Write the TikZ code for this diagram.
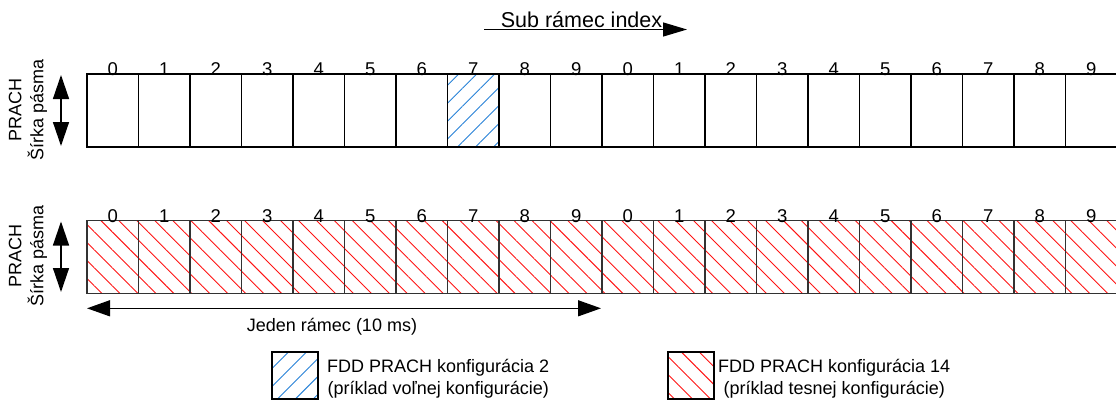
\documentclass[tikz,border=0pt]{standalone}
\usepackage{fontspec}
\setmainfont{Liberation Sans}
\usetikzlibrary{arrows.meta,patterns.meta}
\definecolor{hblue}{RGB}{40,130,215}
\definecolor{hred}{RGB}{255,20,20}
\definecolor{bgray}{RGB}{50,50,50}
\tikzset{
  cellbox/.style={draw, line width=1.4pt, minimum width=51.5pt, minimum height=73pt, inner sep=0pt, outer sep=0pt},
  bluehatch/.style={pattern={Lines[angle=45,distance=12.7pt,line width=0.9pt]}, pattern color=hblue},
  redhatch/.style={pattern={Lines[angle=-45,distance=12.7pt,line width=0.9pt]}, pattern color=hred},
  digit/.style={font=\fontsize{18.5}{22}\selectfont, anchor=base, inner sep=0pt},
  txt/.style={font=\fontsize{18}{22}\selectfont, inner sep=0pt},
  bigarrow/.style={line width=1.4pt, {Triangle[length=24pt,width=16pt]}-{Triangle[length=24pt,width=16pt]}},
  sidelabel/.style={txt, rotate=90, align=center}
}
\begin{document}
\begin{tikzpicture}[x=1pt,y=-1pt]
\useasboundingbox (0,0) rectangle (1116,407);
% top row
\foreach \i in {0,...,19}{
  \pgfmathsetmacro{\cx}{87+51.5*\i+25.75}
  \pgfmathtruncatemacro{\d}{mod(\i,10)}
  \ifnum\i=7
    \node[cellbox, bluehatch] (t\i) at (\cx,110.5) {};
  \else
    \node[cellbox] (t\i) at (\cx,110.5) {};
  \fi
  \node[digit] (td\i) at (\cx,75) {\d};
}
% bottom row
\foreach \i in {0,...,19}{
  \pgfmathsetmacro{\cx}{87+51.5*\i+25.75}
  \pgfmathtruncatemacro{\d}{mod(\i,10)}
  \node[cellbox, draw=bgray, redhatch] (b\i) at (\cx,257) {};
  \node[digit] (bd\i) at (\cx,222.5) {\d};
}
% title arrow
\coordinate (sa) at (484,29.5);
\coordinate (sb) at (687,29.5);
\draw[line width=1.4pt, -{Triangle[length=24pt,width=14pt]}] (sa) -- (sb);
\node[txt, font=\fontsize{21.5}{24}\selectfont, anchor=base] (title) at (581.5,27) {Sub rámec index};
% side labels
\coordinate (ta) at (61,75);
\coordinate (tb) at (61,146);
\draw[bigarrow] (ta) -- (tb);
\node[sidelabel] (tl) at (28,110) {PRACH\\Šírka pásma};
\coordinate (ba) at (61,221.5);
\coordinate (bb) at (61,292);
\draw[bigarrow] (ba) -- (bb);
\node[sidelabel] (bl) at (28,256) {PRACH\\Šírka pásma};
% frame arrow
\coordinate (fa) at (87,308.3);
\coordinate (fb) at (601,308.3);
\draw[line width=1.4pt, {Triangle[length=23pt,width=16pt]}-{Triangle[length=23pt,width=16pt]}] (fa) -- (fb);
\node[txt, anchor=base] (frame) at (332,331) {Jeden rámec (10 ms)};
% legend
\node[draw, line width=1.4pt, minimum width=46pt, minimum height=47pt, inner sep=0pt, bluehatch] (lb) at (295,375.5) {};
\node[txt, align=center, anchor=west] (lbt) at (327,379) {FDD PRACH konfigurácia 2\\(príklad voľnej konfigurácie)};
\node[draw, line width=1.4pt, minimum width=46pt, minimum height=47pt, inner sep=0pt, redhatch] (lr) at (691,375.5) {};
\node[txt, align=center, anchor=west] (lrt) at (718,379) {FDD PRACH konfigurácia 14\\(príklad tesnej konfigurácie)};
\end{tikzpicture}
\end{document}
